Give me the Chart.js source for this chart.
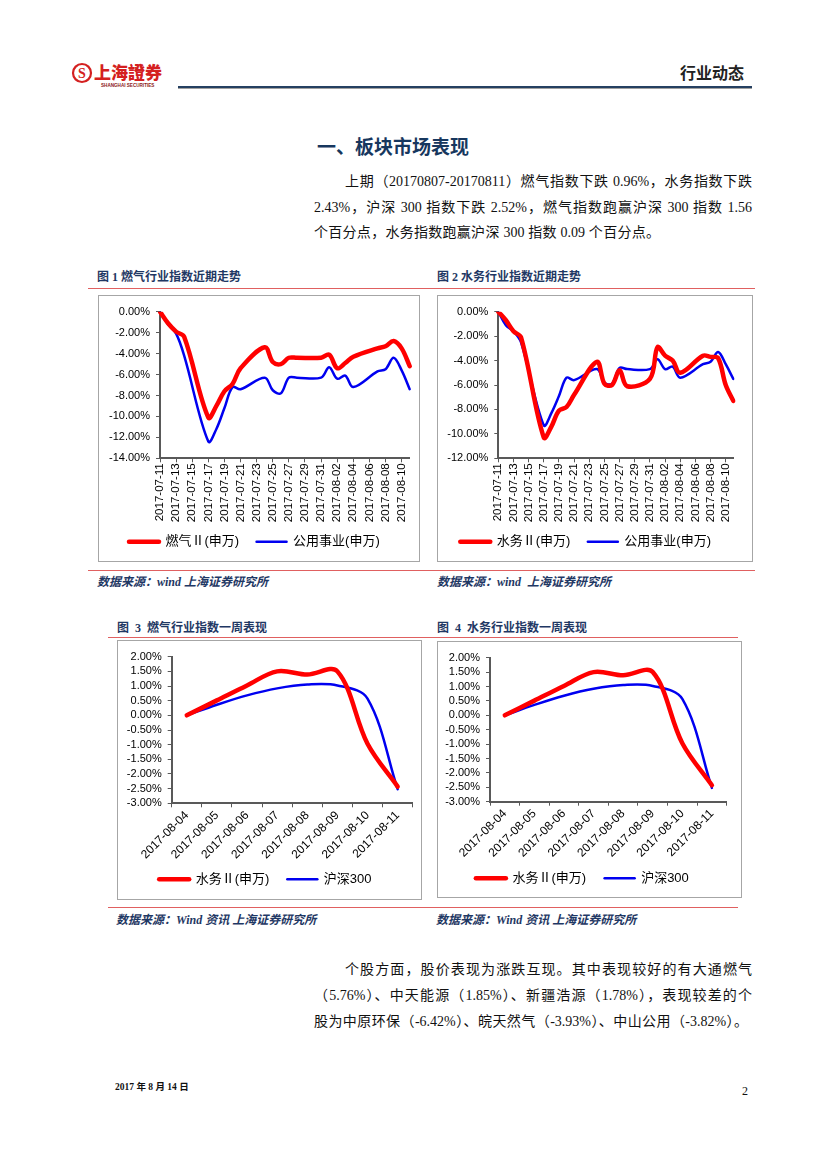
<!DOCTYPE html>
<html>
<head>
<meta charset="utf-8">
<script src="https://cdn.jsdelivr.net/npm/chart.js@4.4.1/dist/chart.umd.min.js"></script>
<style>
  html, body { margin: 0; padding: 0; background: #fff; }
  body { width: 827px; height: 1169px; position: relative; overflow: hidden;
         font-family: "Liberation Serif", "Noto Sans CJK SC", serif; color: #111; }
  .abs { position: absolute; white-space: pre; }
  .para { position: absolute; font-size: 14px; line-height: 26px; height: 26px; white-space: nowrap; }
  .just { text-align: justify; text-align-last: justify; }
  .ctitle { position: absolute; font-family: "Liberation Serif", "Noto Sans CJK SC", serif; font-weight: 700;
            font-size: 12px; color: #1F3864; white-space: pre; line-height: 14px; }
  .src { position: absolute; font-family: "Liberation Serif", "Noto Sans CJK SC", serif; font-weight: 700; font-style: italic;
         font-size: 12px; color: #1F3864; white-space: pre; line-height: 14px; }
  .rline { position: absolute; height: 0; border-top: 1.5px solid #E06060; }
  .box { position: absolute; border: 1px solid #A6A6A6; box-sizing: border-box; }
  .box canvas { position: absolute; left: 0; top: 0; }
</style>
</head>
<body>

<!-- header -->
<svg class="abs" style="left:70px;top:58px;" width="100" height="32" viewBox="0 0 100 32">
  <circle cx="12" cy="15" r="9" fill="none" stroke="#D42020" stroke-width="2.2"/>
  <text x="12" y="20" text-anchor="middle" font-family="Liberation Serif" font-weight="700" font-size="14" fill="#D42020">S</text>
  <text x="24" y="21" font-family="Noto Sans CJK TC" font-weight="900" font-size="17" fill="#D42020">上海證券</text>
  <text x="31" y="29" font-family="Liberation Sans" font-weight="700" font-size="4.6" fill="#8B1A1A">SHANGHAI SECURITIES</text>
</svg>
<div class="abs" style="left:680px;top:60px;font-family:'Noto Sans CJK SC';font-weight:700;font-size:16px;color:#222;">行业动态</div>
<div class="abs" style="left:178px;top:86px;width:574px;height:2px;background:#254061;"></div>
<div class="abs" style="left:178px;top:88px;width:574px;height:1px;background:#A0A0A0;"></div>

<!-- section title -->
<div class="abs" style="left:317px;top:132px;font-family:'Noto Sans CJK SC';font-weight:700;font-size:19px;color:#17375E;">一、板块市场表现</div>

<div class="para just" style="left:345px;top:169px;width:407px;">上期（20170807-20170811）燃气指数下跌 0.96%，水务指数下跌</div>
<div class="para just" style="left:314px;top:195px;width:438px;">2.43%，沪深 300 指数下跌 2.52%，燃气指数跑赢沪深 300 指数 1.56</div>
<div class="para just" style="left:314px;top:220px;width:346px;">个百分点，水务指数跑赢沪深 300 指数 0.09 个百分点。</div>

<!-- figure 1 & 2 headers -->
<div class="ctitle" style="left:97px;top:270px;">图 1 燃气行业指数近期走势</div>
<div class="ctitle" style="left:437px;top:270px;">图 2 水务行业指数近期走势</div>
<div class="rline" style="left:88px;top:288px;width:667px;"></div>

<div class="box" style="left:98px;top:295px;width:322px;height:267px;"><canvas id="c1" width="320" height="265"></canvas></div>
<div class="box" style="left:437px;top:295px;width:316px;height:267px;"><canvas id="c2" width="314" height="265"></canvas></div>

<div class="rline" style="left:88px;top:570px;width:667px;"></div>
<div class="src" style="left:97px;top:575px;">数据来源：wind 上海证券研究所</div>
<div class="src" style="left:437px;top:575px;">数据来源：wind  上海证券研究所</div>

<!-- figure 3 & 4 -->
<div class="ctitle" style="left:117px;top:621px;">图  3  燃气行业指数一周表现</div>
<div class="ctitle" style="left:437px;top:621px;">图  4  水务行业指数一周表现</div>
<div class="rline" style="left:108px;top:637px;width:630px;"></div>

<div class="box" style="left:117px;top:640px;width:305px;height:260px;"><canvas id="c3" width="303" height="258"></canvas></div>
<div class="box" style="left:437px;top:641px;width:305px;height:257px;"><canvas id="c4" width="303" height="255"></canvas></div>

<div class="rline" style="left:108px;top:907px;width:630px;"></div>
<div class="src" style="left:116px;top:913px;">数据来源：Wind 资讯 上海证券研究所</div>
<div class="src" style="left:436px;top:913px;">数据来源：Wind 资讯 上海证券研究所</div>

<!-- paragraph 2 -->
<div class="para just" style="left:345px;top:957px;width:407px;">个股方面，股价表现为涨跌互现。其中表现较好的有大通燃气</div>
<div class="para just" style="left:314px;top:983px;width:438px;">（5.76%）、中天能源（1.85%）、新疆浩源（1.78%），表现较差的个</div>
<div class="para just" style="left:314px;top:1009px;width:434px;">股为中原环保（-6.42%）、皖天然气（-3.93%）、中山公用（-3.82%）。</div>

<!-- footer -->
<div class="abs" style="left:115px;top:1079px;font-family:'Liberation Serif','Noto Sans CJK SC';font-weight:700;font-size:9.5px;">2017 年 8 月 14 日</div>
<div class="abs" style="left:742px;top:1084px;font-family:'Liberation Serif';font-size:12px;">2</div>

<script>
// ---------- data ----------
const dailyDates = ['2017-07-11','2017-07-12','2017-07-13','2017-07-14','2017-07-15','2017-07-16','2017-07-17','2017-07-18',
  '2017-07-19','2017-07-20','2017-07-21','2017-07-22','2017-07-23','2017-07-24','2017-07-25','2017-07-26','2017-07-27',
  '2017-07-28','2017-07-29','2017-07-30','2017-07-31','2017-08-01','2017-08-02','2017-08-03','2017-08-04','2017-08-05',
  '2017-08-06','2017-08-07','2017-08-08','2017-08-09','2017-08-10','2017-08-11'];

// Figure 1 (%, null = non-trading day)
const gasIndex = [0, -1.1, -1.9, -2.4, null, null, -10.1, -9.0, -7.6, -6.9, -5.4, null, null, -3.4, -4.8, -5.0, -4.4,
  -4.4, null, null, -4.4, -4.1, -5.4, -4.9, -4.3, null, null, -3.5, -3.3, -2.8, -3.5, -5.2];
const utilityIndex1 = [0, -1.2, -2.1, -4.2, null, null, -12.4, -11.2, -9.2, -7.2, -7.4, null, null, -6.3, -7.5, -7.8, -6.3,
  -6.3, null, null, -6.3, -5.3, -6.4, -6.1, -7.2, null, null, -5.7, -5.5, -4.4, -5.6, -7.4];

// Figure 2 (%)
const waterIndex = [0, -0.7, -1.6, -2.1, null, null, -10.3, -9.4, -8.1, -7.8, -6.8, null, null, -4.1, -5.9, -6.0, -4.8,
  -6.1, null, null, -5.5, -2.9, -3.6, -4.0, -5.0, null, null, -3.6, -3.7, -3.8, -6.0, -7.3];
const utilityIndex2 = [0, -1.1, -1.6, -2.5, null, null, -9.3, -8.3, -6.9, -5.4, -5.6, null, null, -4.7, -5.8, -5.9, -4.6,
  -4.7, null, null, -4.7, -3.9, -4.7, -4.5, -5.4, null, null, -4.3, -4.1, -3.3, -4.3, -5.5];

// Figures 3 & 4 (%)
const weekDates = ['2017-08-04','2017-08-05','2017-08-06','2017-08-07','2017-08-08','2017-08-09','2017-08-10','2017-08-11'];
const waterWeek = [0, 0.51, 1.02, 1.50, 1.39, 1.50, -0.97, -2.43];
const hs300Week = [0, 0.36, 0.68, 0.92, 1.05, 1.02, 0.57, -2.52];

const names1 = ['燃气Ⅱ(申万)', '公用事业(申万)'];
const names2 = ['水务Ⅱ(申万)', '公用事业(申万)'];
const names3 = ['水务Ⅱ(申万)', '沪深300'];

// ---------- drawing ----------
const RED = '#FF0000', BLUE = '#0000F0', AX = '#595959';
Chart.defaults.font.family = '"Liberation Sans", "Noto Sans CJK SC", sans-serif';
Chart.defaults.color = '#000';

function lineChart(id, labels, a, b, names, g) {
  return new Chart(document.getElementById(id), {
    type: 'line',
    data: {
      labels: labels,
      datasets: [
        { label: names[0], data: a, borderColor: RED, backgroundColor: RED, borderWidth: 4.5 },
        { label: names[1], data: b, borderColor: BLUE, backgroundColor: BLUE, borderWidth: 2.5 }
      ]
    },
    options: {
      responsive: false, animation: false, devicePixelRatio: 1,
      spanGaps: true,
      layout: { padding: { top: g.padTop, right: g.padRight, bottom: g.padBottom, left: 0 } },
      elements: {
        point: { radius: 0, hoverRadius: 0 },
        line: { tension: 0.35, borderCapStyle: 'round', borderJoinStyle: 'round' }
      },
      plugins: {
        tooltip: { enabled: false },
        legend: {
          position: 'bottom',
          labels: {
            usePointStyle: true, pointStyleWidth: 30, padding: g.legPad,
            font: { size: 13 }, color: '#000',
            generateLabels: (chart) => chart.data.datasets.map((ds, i) => ({
              text: i === 0 ? ds.label + '\u2002' : ds.label,
              strokeStyle: ds.borderColor, fillStyle: ds.borderColor,
              lineWidth: ds.borderWidth, pointStyle: 'line', lineCap: 'round',
              datasetIndex: i, fontColor: '#000', hidden: false
            }))
          }
        }
      },
      scales: {
        x: {
          offset: g.offset,
          grid: { display: true, drawOnChartArea: false, offset: g.offset, tickLength: 4, tickColor: AX, tickWidth: 1 },
          border: { display: true, color: AX, width: 2 },
          ticks: { autoSkip: false, minRotation: g.rot, maxRotation: g.rot, padding: 1, font: { size: g.xFont }, color: '#000' },
          afterBuildTicks: (axis) => { if (g.every > 1) axis.ticks = axis.ticks.filter((t, i) => i % g.every === 0); },
          afterFit: (s) => { s.height = g.xH; }
        },
        y: {
          min: g.yMin, max: g.yMax,
          grid: { display: true, drawOnChartArea: false, tickLength: 4, tickColor: AX, tickWidth: 1 },
          border: { display: true, color: AX, width: 2 },
          ticks: { stepSize: g.step, autoSkip: false, padding: 6, font: { size: 11 }, color: '#000',
                   callback: (v) => Number(v).toFixed(2) + '%' },
          afterFit: (s) => { s.width = g.yW; }
        }
      }
    }
  });
}

lineChart('c1', dailyDates, gasIndex, utilityIndex1, names1,
  { padTop: 15.7, padRight: 9.3, padBottom: 2.8, yW: 61, xH: 66, legPad: 10.9, yMin: -14, yMax: 0, step: 2, rot: 90, every: 2, offset: false, xFont: 11.5 });
lineChart('c2', dailyDates, waterIndex, utilityIndex2, names2,
  { padTop: 15.7, padRight: 18.7, padBottom: 2.8, yW: 60.3, xH: 66, legPad: 10.9, yMin: -12, yMax: 0, step: 2, rot: 90, every: 2, offset: false, xFont: 11.5 });
lineChart('c3', weekDates, waterWeek, hs300Week, names3,
  { padTop: 15.7, padRight: 8.3, padBottom: 3.2, yW: 53.7, xH: 58, legPad: 11.5, yMin: -3, yMax: 2, step: 0.5, rot: 45, every: 1, offset: true, xFont: 12 });
lineChart('c4', weekDates, waterWeek, hs300Week, names3,
  { padTop: 15.7, padRight: 14.3, padBottom: 2.2, yW: 52, xH: 58, legPad: 12.1, yMin: -3, yMax: 2, step: 0.5, rot: 45, every: 1, offset: true, xFont: 12 });
</script>
</body>
</html>
